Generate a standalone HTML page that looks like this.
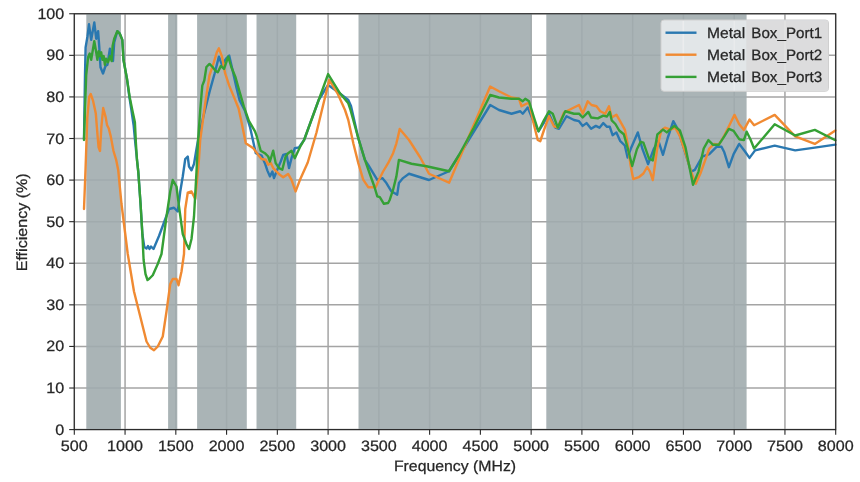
<!DOCTYPE html>
<html><head><meta charset="utf-8"><style>
html,body{margin:0;padding:0;background:#fff;width:860px;height:482px;overflow:hidden}
svg{display:block;filter:blur(0.45px)}
text{font-family:"Liberation Sans",sans-serif;font-size:15px;fill:#262626;stroke:#262626;stroke-width:0.25px;text-rendering:geometricPrecision}
</style></head><body>
<svg width="860" height="482" viewBox="0 0 860 482">
<rect width="860" height="482" fill="#fff"/>
<g stroke="#a4a4a4" stroke-width="1.5"><line x1="74.30" y1="13.75" x2="74.30" y2="429.6"/><line x1="125.06" y1="13.75" x2="125.06" y2="429.6"/><line x1="175.82" y1="13.75" x2="175.82" y2="429.6"/><line x1="226.58" y1="13.75" x2="226.58" y2="429.6"/><line x1="277.34" y1="13.75" x2="277.34" y2="429.6"/><line x1="328.10" y1="13.75" x2="328.10" y2="429.6"/><line x1="378.86" y1="13.75" x2="378.86" y2="429.6"/><line x1="429.62" y1="13.75" x2="429.62" y2="429.6"/><line x1="480.38" y1="13.75" x2="480.38" y2="429.6"/><line x1="531.14" y1="13.75" x2="531.14" y2="429.6"/><line x1="581.90" y1="13.75" x2="581.90" y2="429.6"/><line x1="632.66" y1="13.75" x2="632.66" y2="429.6"/><line x1="683.42" y1="13.75" x2="683.42" y2="429.6"/><line x1="734.18" y1="13.75" x2="734.18" y2="429.6"/><line x1="784.94" y1="13.75" x2="784.94" y2="429.6"/><line x1="835.70" y1="13.75" x2="835.70" y2="429.6"/><line x1="74.3" y1="429.60" x2="835.7" y2="429.60"/><line x1="74.3" y1="388.02" x2="835.7" y2="388.02"/><line x1="74.3" y1="346.43" x2="835.7" y2="346.43"/><line x1="74.3" y1="304.85" x2="835.7" y2="304.85"/><line x1="74.3" y1="263.26" x2="835.7" y2="263.26"/><line x1="74.3" y1="221.68" x2="835.7" y2="221.68"/><line x1="74.3" y1="180.09" x2="835.7" y2="180.09"/><line x1="74.3" y1="138.50" x2="835.7" y2="138.50"/><line x1="74.3" y1="96.92" x2="835.7" y2="96.92"/><line x1="74.3" y1="55.34" x2="835.7" y2="55.34"/><line x1="74.3" y1="13.75" x2="835.7" y2="13.75"/></g>
<g fill="#a1acaf" opacity="0.9"><rect x="86.3" y="13.75" width="34.60" height="415.85"/><rect x="168.1" y="13.75" width="9.20" height="415.85"/><rect x="197.1" y="13.75" width="49.70" height="415.85"/><rect x="256.5" y="13.75" width="39.70" height="415.85"/><rect x="358.5" y="13.75" width="173.10" height="415.85"/><rect x="546.3" y="13.75" width="200.30" height="415.85"/></g>
<g fill="none" stroke-width="2.4" stroke-linejoin="round" stroke-linecap="round">
<polyline stroke="#2a78b0" points="84.00,139.00 85.00,75.00 85.60,47.40 87.50,36.20 89.00,24.30 91.20,39.90 94.30,22.50 96.20,38.70 98.10,31.20 99.30,47.40 100.50,67.30 103.00,73.50 105.50,66.00 107.40,64.80 109.90,48.60 111.70,58.60 113.00,61.00 114.20,42.40 117.30,31.20 119.80,33.70 122.30,39.90 123.50,60.00 127.00,79.00 129.40,97.00 131.40,110.00 133.60,125.00 135.30,143.00 137.00,160.00 138.30,172.00 138.30,172.00 140.50,203.00 142.40,234.50 144.30,247.00 146.50,248.50 148.00,246.00 149.50,249.00 151.00,246.50 153.50,249.00 159.00,236.00 164.00,222.50 169.00,209.00 174.00,207.75 177.75,211.50 180.25,191.50 182.75,176.50 185.25,159.00 187.75,156.50 189.00,166.50 191.50,170.25 194.00,164.00 196.50,149.00 198.10,140.00 203.30,116.80 209.50,91.90 214.70,73.20 218.90,56.60 222.00,64.90 226.10,58.70 229.20,55.60 232.30,69.00 236.50,87.70 239.60,100.20 244.80,110.50 250.00,127.10 255.80,153.20 261.60,155.70 264.90,163.20 267.40,170.60 269.90,176.40 272.40,171.50 274.00,178.10 276.50,171.50 280.70,161.50 283.20,154.90 286.50,154.00 289.00,168.10 291.50,158.20 294.80,148.20 298.90,147.40 304.10,140.00 318.70,100.00 328.10,84.90 338.00,92.00 348.30,100.00 351.00,106.00 358.30,138.20 364.90,159.80 368.20,164.80 373.20,173.10 377.30,179.80 382.30,178.10 386.40,183.10 391.40,191.40 395.60,193.80 397.20,194.70 398.90,183.10 403.00,178.10 409.00,173.75 429.00,180.00 449.00,171.25 464.00,147.50 490.25,105.00 499.00,110.00 511.50,113.75 520.25,111.25 522.75,113.75 527.75,107.50 534.00,122.50 538.50,131.25 544.00,122.50 549.00,113.75 552.75,122.50 555.25,127.50 559.00,128.75 566.50,116.25 574.00,120.00 579.00,121.20 582.70,125.90 586.50,123.10 591.10,128.70 595.80,125.90 599.50,127.70 603.30,123.10 607.00,126.80 609.80,126.80 612.60,135.20 616.40,132.40 620.10,140.80 624.80,145.50 627.60,157.60 631.30,147.40 637.80,132.40 642.50,149.20 648.10,164.20 653.70,149.20 658.40,140.80 663.00,154.80 667.70,138.00 673.30,121.20 678.00,129.60 683.60,147.40 691.10,171.60 694.80,169.80 702.30,156.70 709.30,154.10 716.80,146.70 721.50,146.70 724.30,152.30 728.90,167.20 733.60,154.10 739.20,143.90 744.80,151.30 749.50,157.90 755.10,150.40 774.70,145.70 795.20,150.40 814.80,147.60 835.40,144.60"/>
<polyline stroke="#f08a32" points="84.00,209.00 85.50,170.00 87.30,117.40 89.20,96.80 90.70,94.00 93.00,100.60 95.80,113.60 97.60,136.10 98.60,147.30 100.00,151.00 101.40,126.70 103.20,108.00 105.70,117.40 107.00,124.90 108.80,128.60 110.70,136.10 113.50,151.00 116.30,160.40 118.20,170.00 121.50,204.00 127.75,254.00 134.00,291.50 140.25,316.50 146.50,341.50 150.25,347.75 154.00,350.25 157.75,346.50 162.75,336.50 166.50,311.50 170.25,284.00 172.75,279.00 176.50,279.00 178.50,285.25 181.50,271.50 184.00,254.00 185.25,209.00 187.75,192.75 191.50,191.50 195.25,199.00 199.00,159.00 200.20,140.00 205.40,102.20 209.50,75.30 213.70,62.80 216.80,52.40 218.90,48.30 222.00,56.60 225.10,73.20 229.20,85.60 234.40,98.10 238.60,108.50 241.70,123.00 245.80,143.20 253.30,148.20 258.30,154.90 261.60,159.00 265.70,159.80 268.20,164.80 270.50,162.50 273.20,168.10 279.80,174.80 283.20,177.30 288.10,173.90 291.50,179.80 295.60,191.40 300.00,179.80 307.75,162.50 316.50,132.50 329.20,80.00 337.50,93.30 345.00,110.00 348.30,120.00 353.30,143.20 358.30,163.10 363.20,179.70 368.20,187.20 375.70,187.20 379.00,179.70 383.10,171.50 388.10,163.20 393.10,153.20 396.40,143.30 398.00,136.60 399.70,129.00 409.00,140.00 420.25,157.50 429.00,173.75 449.10,182.70 490.20,86.50 499.00,91.25 511.50,97.50 519.00,98.75 521.50,106.25 526.50,103.75 529.00,102.50 534.00,125.00 537.75,140.00 540.25,141.25 544.00,130.00 549.00,116.25 554.00,126.25 557.75,127.50 564.00,112.50 571.50,108.75 579.00,105.00 582.75,113.75 587.75,101.25 591.50,105.00 596.50,106.25 600.25,111.25 605.25,113.75 609.00,106.25 611.70,117.50 616.40,114.70 620.10,121.20 624.80,129.60 627.60,143.60 630.40,164.20 633.20,179.10 638.80,177.20 643.40,173.50 647.20,167.00 650.00,171.60 652.80,180.00 657.40,147.40 661.20,130.50 664.90,127.70 670.50,129.60 675.20,127.70 679.90,136.10 685.50,153.00 691.10,171.60 695.70,183.80 700.40,173.50 704.70,161.60 709.30,148.50 714.00,143.90 718.70,144.80 724.30,135.50 729.90,124.30 734.50,114.90 739.20,124.30 743.90,129.90 749.50,119.60 754.10,125.20 774.70,114.90 795.20,136.40 814.80,143.90 835.40,130.50"/>
<polyline stroke="#35a035" points="84.00,140.00 86.20,75.00 88.10,57.30 89.70,53.60 91.20,59.80 94.30,41.10 96.20,52.30 97.40,59.80 98.70,51.10 99.90,56.10 101.20,52.30 102.40,59.80 103.70,56.10 104.90,64.80 106.10,58.60 108.00,62.30 109.90,56.10 111.70,61.00 112.60,46.10 114.20,38.70 117.30,31.20 119.80,33.70 122.30,39.90 123.50,60.00 127.00,79.00 129.70,97.30 132.30,110.00 134.90,122.20 135.90,143.00 137.00,160.00 138.30,172.00 138.30,172.00 140.50,203.00 142.40,234.50 143.60,260.00 145.50,274.00 147.50,280.00 149.50,278.50 152.75,275.25 157.75,264.00 161.50,254.00 166.50,216.50 170.25,191.50 172.75,180.00 176.50,186.50 179.00,206.50 182.75,234.00 186.50,244.00 189.00,249.00 191.50,239.00 194.00,216.50 196.50,171.50 198.10,140.00 200.20,110.50 202.30,85.60 204.30,80.50 206.40,67.00 209.50,63.90 212.60,67.00 215.70,71.10 217.80,72.20 220.90,65.90 224.00,69.00 228.20,56.60 231.30,67.00 235.50,77.30 239.60,91.90 243.80,106.40 248.90,120.90 255.00,131.30 256.60,135.80 260.70,150.70 264.90,153.20 268.20,156.50 269.90,161.50 273.20,150.70 275.70,163.20 279.00,168.10 282.30,169.80 285.60,156.50 288.10,153.20 291.50,150.70 294.80,158.20 299.80,147.40 304.10,140.00 316.50,106.00 328.10,74.10 340.00,93.30 348.30,103.30 350.50,110.00 358.30,138.20 364.90,159.80 369.50,173.00 374.50,187.00 377.30,196.30 379.80,197.20 383.90,203.80 388.10,203.00 389.80,199.70 393.10,189.70 396.40,176.40 398.90,159.90 411.50,163.75 426.50,166.25 449.00,171.25 459.00,155.00 474.00,127.50 490.25,95.00 499.00,97.50 511.50,98.75 519.00,98.75 522.75,101.25 525.25,98.75 529.00,101.25 534.00,117.50 538.50,131.25 544.00,120.00 549.00,111.25 552.75,113.75 557.75,127.50 565.25,111.25 574.00,113.75 579.00,113.70 582.70,117.50 588.30,111.90 591.10,117.50 597.70,118.40 603.30,115.60 607.00,116.50 609.80,111.90 611.70,120.30 615.40,124.00 619.20,130.50 623.80,134.30 628.50,151.10 632.20,166.00 636.90,149.20 640.60,141.80 643.40,142.70 649.00,158.60 652.80,160.40 657.40,134.30 663.00,129.60 666.80,132.40 674.30,125.90 679.90,130.50 685.50,147.40 693.00,184.70 698.50,171.60 703.70,148.50 708.40,140.10 713.10,144.80 718.70,144.80 724.30,136.40 728.90,128.90 733.60,130.80 739.20,139.20 743.90,140.10 746.70,131.70 750.40,139.20 754.10,148.50 774.70,124.30 795.20,135.50 814.80,129.90 835.40,140.30"/>
</g>
<rect x="74.3" y="13.75" width="761.40" height="415.85" fill="none" stroke="#262626" stroke-width="1.1"/>
<g stroke="#262626" stroke-width="1.1"><line x1="74.30" y1="429.6" x2="74.30" y2="434.70"/><line x1="125.06" y1="429.6" x2="125.06" y2="434.70"/><line x1="175.82" y1="429.6" x2="175.82" y2="434.70"/><line x1="226.58" y1="429.6" x2="226.58" y2="434.70"/><line x1="277.34" y1="429.6" x2="277.34" y2="434.70"/><line x1="328.10" y1="429.6" x2="328.10" y2="434.70"/><line x1="378.86" y1="429.6" x2="378.86" y2="434.70"/><line x1="429.62" y1="429.6" x2="429.62" y2="434.70"/><line x1="480.38" y1="429.6" x2="480.38" y2="434.70"/><line x1="531.14" y1="429.6" x2="531.14" y2="434.70"/><line x1="581.90" y1="429.6" x2="581.90" y2="434.70"/><line x1="632.66" y1="429.6" x2="632.66" y2="434.70"/><line x1="683.42" y1="429.6" x2="683.42" y2="434.70"/><line x1="734.18" y1="429.6" x2="734.18" y2="434.70"/><line x1="784.94" y1="429.6" x2="784.94" y2="434.70"/><line x1="835.70" y1="429.6" x2="835.70" y2="434.70"/><line x1="69.20" y1="429.60" x2="74.3" y2="429.60"/><line x1="69.20" y1="388.02" x2="74.3" y2="388.02"/><line x1="69.20" y1="346.43" x2="74.3" y2="346.43"/><line x1="69.20" y1="304.85" x2="74.3" y2="304.85"/><line x1="69.20" y1="263.26" x2="74.3" y2="263.26"/><line x1="69.20" y1="221.68" x2="74.3" y2="221.68"/><line x1="69.20" y1="180.09" x2="74.3" y2="180.09"/><line x1="69.20" y1="138.50" x2="74.3" y2="138.50"/><line x1="69.20" y1="96.92" x2="74.3" y2="96.92"/><line x1="69.20" y1="55.34" x2="74.3" y2="55.34"/><line x1="69.20" y1="13.75" x2="74.3" y2="13.75"/></g>
<g><text transform="translate(74.30,450.6) scale(1.075,1)" text-anchor="middle">500</text><text transform="translate(125.06,450.6) scale(1.075,1)" text-anchor="middle">1000</text><text transform="translate(175.82,450.6) scale(1.075,1)" text-anchor="middle">1500</text><text transform="translate(226.58,450.6) scale(1.075,1)" text-anchor="middle">2000</text><text transform="translate(277.34,450.6) scale(1.075,1)" text-anchor="middle">2500</text><text transform="translate(328.10,450.6) scale(1.075,1)" text-anchor="middle">3000</text><text transform="translate(378.86,450.6) scale(1.075,1)" text-anchor="middle">3500</text><text transform="translate(429.62,450.6) scale(1.075,1)" text-anchor="middle">4000</text><text transform="translate(480.38,450.6) scale(1.075,1)" text-anchor="middle">4500</text><text transform="translate(531.14,450.6) scale(1.075,1)" text-anchor="middle">5000</text><text transform="translate(581.90,450.6) scale(1.075,1)" text-anchor="middle">5500</text><text transform="translate(632.66,450.6) scale(1.075,1)" text-anchor="middle">6000</text><text transform="translate(683.42,450.6) scale(1.075,1)" text-anchor="middle">6500</text><text transform="translate(734.18,450.6) scale(1.075,1)" text-anchor="middle">7000</text><text transform="translate(784.94,450.6) scale(1.075,1)" text-anchor="middle">7500</text><text transform="translate(835.70,450.6) scale(1.075,1)" text-anchor="middle">8000</text><text transform="translate(64.3,434.60) scale(1.075,1)" text-anchor="end">0</text><text transform="translate(64.3,393.02) scale(1.075,1)" text-anchor="end">10</text><text transform="translate(64.3,351.43) scale(1.075,1)" text-anchor="end">20</text><text transform="translate(64.3,309.85) scale(1.075,1)" text-anchor="end">30</text><text transform="translate(64.3,268.26) scale(1.075,1)" text-anchor="end">40</text><text transform="translate(64.3,226.68) scale(1.075,1)" text-anchor="end">50</text><text transform="translate(64.3,185.09) scale(1.075,1)" text-anchor="end">60</text><text transform="translate(64.3,143.50) scale(1.075,1)" text-anchor="end">70</text><text transform="translate(64.3,101.92) scale(1.075,1)" text-anchor="end">80</text><text transform="translate(64.3,60.34) scale(1.075,1)" text-anchor="end">90</text><text transform="translate(64.3,18.75) scale(1.075,1)" text-anchor="end">100</text></g>
<text transform="translate(455,470.7) scale(1.055,1)" text-anchor="middle">Frequency (MHz)</text>
<text transform="translate(27.2,222.3) rotate(-90) scale(1.072,1)" text-anchor="middle">Efficiency (%)</text>
<g>
<rect x="661" y="20" width="167.5" height="71.3" rx="3" fill="#e2e6e8" stroke="#cfcfcf" stroke-width="1"/>
<rect x="746.3" y="20.5" width="81.7" height="70.3" fill="#dcdcdd"/>
<g stroke-width="1.6"><line x1="683.3" y1="21" x2="683.3" y2="90.5" stroke="#ecedee"/><line x1="734.3" y1="21" x2="734.3" y2="90.5" stroke="#e9ebec"/><line x1="785" y1="21" x2="785" y2="90.5" stroke="#e3e3e3"/></g>
<line x1="665.5" y1="32.7" x2="696.5" y2="32.7" stroke="#2a78b0" stroke-width="2.4"/>
<line x1="665.5" y1="54.7" x2="696.5" y2="54.7" stroke="#f08a32" stroke-width="2.4"/>
<line x1="665.5" y1="76.9" x2="696.5" y2="76.9" stroke="#35a035" stroke-width="2.4"/>
<text transform="translate(707,37.5) scale(1.04,1)">Metal</text><text transform="translate(751.3,37.5) scale(1.012,1)">Box_Port1</text>
<text transform="translate(707,59.5) scale(1.04,1)">Metal</text><text transform="translate(751.3,59.5) scale(1.012,1)">Box_Port2</text>
<text transform="translate(707,81.5) scale(1.04,1)">Metal</text><text transform="translate(751.3,81.5) scale(1.012,1)">Box_Port3</text>
</g>
</svg>
</body></html>
